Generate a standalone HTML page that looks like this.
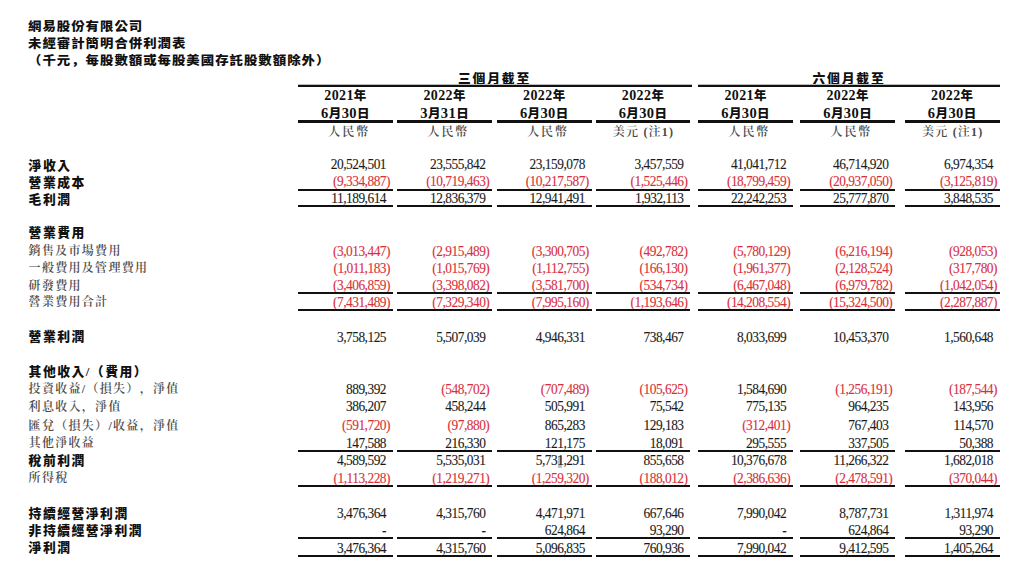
<!DOCTYPE html><html><head><meta charset="utf-8"><title>網易股份有限公司 未經審計簡明合併利潤表</title><style>
html,body{margin:0;padding:0;background:#fff;width:1024px;height:566px;overflow:hidden;position:relative}
div{text-spacing-trim:space-all}
.t{position:absolute;white-space:nowrap;line-height:1}
.n{font-family:"Liberation Serif",serif;font-size:13.40px;letter-spacing:-0.50px;color:#1a1a1a;text-align:right;transform:scaleY(1.100);transform-origin:100% 11.0px;-webkit-text-stroke:0.10px currentColor}
.n.r{color:#d8303a}
.h{visibility:hidden}
.cmb{font-family:"Liberation Sans","Noto Sans CJK SC",sans-serif}
.cmr{font-family:"Liberation Serif","Noto Serif CJK SC",serif}
.lb{font-family:"Liberation Serif","Noto Sans CJK TC",sans-serif;font-weight:900;font-size:12.80px;letter-spacing:1.50px;color:#111}
.lr{font-family:"Liberation Serif","Noto Serif CJK TC","Noto Serif CJK SC",serif;font-weight:600;font-size:12.00px;letter-spacing:1.30px;color:#4a4a4a}
.ti{font-family:"Liberation Serif","Noto Sans CJK TC",sans-serif;font-weight:900;font-size:12.20px;letter-spacing:0.90px;color:#111;transform:scaleX(1.100);transform-origin:0 0}
.pr{font-family:"Liberation Serif","Noto Sans CJK TC",sans-serif;font-weight:900;font-size:12.80px;letter-spacing:1.80px;color:#111;text-align:center}
.ln{position:absolute;background:#111}
.hd{font-family:"Liberation Serif","Noto Sans CJK TC",sans-serif;font-weight:900;font-size:12.50px;letter-spacing:0.40px;color:#111;text-align:center}
.cu{font-family:"Liberation Serif","Noto Serif CJK TC","Noto Serif CJK SC",serif;font-weight:600;font-size:12.00px;letter-spacing:1.90px;color:#4a4a4a;text-align:center}
</style></head><body>
<div class="t ti" style="left:28.2px;top:21.0px">網易股份有限公司</div>
<div class="t ti" style="left:28.2px;top:38.2px">未經審計簡明合併利潤表</div>
<div class="t ti" style="left:28.2px;top:54.8px">（千元<span class="cmb">，</span>每股數額或每股美國存託股數額除外）</div>
<div class="t pr" style="left:298px;width:393px;top:72.6px">三個月截至</div>
<div class="t pr" style="left:698px;width:302px;top:72.6px">六個月截至</div>
<div class="ln" style="left:298px;width:393.5px;top:85px;height:2px"></div>
<div class="ln" style="left:698.2px;width:301.8px;top:85px;height:2px"></div>
<div class="ln" style="left:298px;width:393.5px;top:84px;height:1px;background:#bbb"></div>
<div class="ln" style="left:698.2px;width:301.8px;top:84px;height:1px;background:#bbb"></div>
<div class="t hd" style="left:298.0px;width:95.0px;top:89.4px"><span style="font-size:14.0px">2021</span>年</div>
<div class="t hd" style="left:298.0px;width:95.0px;top:105.7px"><span style="font-size:14.5px">6</span>月<span style="font-size:14.5px">30</span>日</div>
<div class="t cu" style="left:301.7px;width:95.0px;top:125.9px">人民幣</div>
<div class="t hd" style="left:397.0px;width:95.3px;top:89.4px"><span style="font-size:14.0px">2022</span>年</div>
<div class="t hd" style="left:397.0px;width:95.3px;top:105.7px"><span style="font-size:14.5px">3</span>月<span style="font-size:14.5px">31</span>日</div>
<div class="t cu" style="left:400.7px;width:95.3px;top:125.9px">人民幣</div>
<div class="t hd" style="left:496.8px;width:95.0px;top:89.4px"><span style="font-size:14.0px">2022</span>年</div>
<div class="t hd" style="left:496.8px;width:95.0px;top:105.7px"><span style="font-size:14.5px">6</span>月<span style="font-size:14.5px">30</span>日</div>
<div class="t cu" style="left:500.5px;width:95.0px;top:125.9px">人民幣</div>
<div class="t hd" style="left:595.6px;width:94.9px;top:89.4px"><span style="font-size:14.0px">2022</span>年</div>
<div class="t hd" style="left:595.6px;width:94.9px;top:105.7px"><span style="font-size:14.5px">6</span>月<span style="font-size:14.5px">30</span>日</div>
<div class="t cu" style="left:596.1px;width:94.9px;top:125.9px;letter-spacing:1.20px">美元 (注1)</div>
<div class="t hd" style="left:698.2px;width:94.9px;top:89.4px"><span style="font-size:14.0px">2021</span>年</div>
<div class="t hd" style="left:698.2px;width:94.9px;top:105.7px"><span style="font-size:14.5px">6</span>月<span style="font-size:14.5px">30</span>日</div>
<div class="t cu" style="left:701.9px;width:94.9px;top:125.9px">人民幣</div>
<div class="t hd" style="left:800.1px;width:95.2px;top:89.4px"><span style="font-size:14.0px">2022</span>年</div>
<div class="t hd" style="left:800.1px;width:95.2px;top:105.7px"><span style="font-size:14.5px">6</span>月<span style="font-size:14.5px">30</span>日</div>
<div class="t cu" style="left:803.8px;width:95.2px;top:125.9px">人民幣</div>
<div class="t hd" style="left:904.5px;width:95.5px;top:89.4px"><span style="font-size:14.0px">2022</span>年</div>
<div class="t hd" style="left:904.5px;width:95.5px;top:105.7px"><span style="font-size:14.5px">6</span>月<span style="font-size:14.5px">30</span>日</div>
<div class="t cu" style="left:905.0px;width:95.5px;top:125.9px;letter-spacing:1.20px">美元 (注1)</div>
<div style="position:absolute;left:558.0px;top:456.0px;width:4.0px;height:12.0px;background:#a9c6cf"></div>
<div class="t lb" style="left:28.6px;top:160.40px">淨收入</div>
<div class="t n" style="right:634.00px;top:158.40px">20,524,501<span class="h">)</span></div>
<div class="t n" style="right:534.70px;top:158.40px">23,555,842<span class="h">)</span></div>
<div class="t n" style="right:435.20px;top:158.40px">23,159,078<span class="h">)</span></div>
<div class="t n" style="right:336.50px;top:158.40px">3,457,559<span class="h">)</span></div>
<div class="t n" style="right:233.90px;top:158.40px">41,041,712<span class="h">)</span></div>
<div class="t n" style="right:131.70px;top:158.40px">46,714,920<span class="h">)</span></div>
<div class="t n" style="right:27.00px;top:158.40px">6,974,354<span class="h">)</span></div>
<div class="t lb" style="left:28.6px;top:176.90px">營業成本</div>
<div class="t n r" style="right:634.00px;top:174.80px">(9,334,887)</div>
<div class="t n r" style="right:534.70px;top:174.80px">(10,719,463)</div>
<div class="t n r" style="right:435.20px;top:174.80px">(10,217,587)</div>
<div class="t n r" style="right:336.50px;top:174.80px">(1,525,446)</div>
<div class="t n r" style="right:233.90px;top:174.80px">(18,799,459)</div>
<div class="t n r" style="right:131.70px;top:174.80px">(20,937,050)</div>
<div class="t n r" style="right:27.00px;top:174.80px">(3,125,819)</div>
<div class="t lb" style="left:28.6px;top:193.90px">毛利潤</div>
<div class="t n" style="right:634.00px;top:191.60px">11,189,614<span class="h">)</span></div>
<div class="t n" style="right:534.70px;top:191.60px">12,836,379<span class="h">)</span></div>
<div class="t n" style="right:435.20px;top:191.60px">12,941,491<span class="h">)</span></div>
<div class="t n" style="right:336.50px;top:191.60px">1,932,113<span class="h">)</span></div>
<div class="t n" style="right:233.90px;top:191.60px">22,242,253<span class="h">)</span></div>
<div class="t n" style="right:131.70px;top:191.60px">25,777,870<span class="h">)</span></div>
<div class="t n" style="right:27.00px;top:191.60px">3,848,535<span class="h">)</span></div>
<div class="t lb" style="left:28.6px;top:227.30px">營業費用</div>
<div class="t lr" style="left:28.6px;top:244.50px">銷售及市場費用</div>
<div class="t n r" style="right:634.00px;top:244.60px">(3,013,447)</div>
<div class="t n r" style="right:534.70px;top:244.60px">(2,915,489)</div>
<div class="t n r" style="right:435.20px;top:244.60px">(3,300,705)</div>
<div class="t n r" style="right:336.50px;top:244.60px">(492,782)</div>
<div class="t n r" style="right:233.90px;top:244.60px">(5,780,129)</div>
<div class="t n r" style="right:131.70px;top:244.60px">(6,216,194)</div>
<div class="t n r" style="right:27.00px;top:244.60px">(928,053)</div>
<div class="t lr" style="left:28.6px;top:261.80px">一般費用及管理費用</div>
<div class="t n r" style="right:634.00px;top:261.60px">(1,011,183)</div>
<div class="t n r" style="right:534.70px;top:261.60px">(1,015,769)</div>
<div class="t n r" style="right:435.20px;top:261.60px">(1,112,755)</div>
<div class="t n r" style="right:336.50px;top:261.60px">(166,130)</div>
<div class="t n r" style="right:233.90px;top:261.60px">(1,961,377)</div>
<div class="t n r" style="right:131.70px;top:261.60px">(2,128,524)</div>
<div class="t n r" style="right:27.00px;top:261.60px">(317,780)</div>
<div class="t lr" style="left:28.6px;top:279.70px">研發費用</div>
<div class="t n r" style="right:634.00px;top:279.00px">(3,406,859)</div>
<div class="t n r" style="right:534.70px;top:279.00px">(3,398,082)</div>
<div class="t n r" style="right:435.20px;top:279.00px">(3,581,700)</div>
<div class="t n r" style="right:336.50px;top:279.00px">(534,734)</div>
<div class="t n r" style="right:233.90px;top:279.00px">(6,467,048)</div>
<div class="t n r" style="right:131.70px;top:279.00px">(6,979,782)</div>
<div class="t n r" style="right:27.00px;top:279.00px">(1,042,054)</div>
<div class="t lr" style="left:28.6px;top:296.10px">營業費用合計</div>
<div class="t n r" style="right:634.00px;top:296.30px">(7,431,489)</div>
<div class="t n r" style="right:534.70px;top:296.30px">(7,329,340)</div>
<div class="t n r" style="right:435.20px;top:296.30px">(7,995,160)</div>
<div class="t n r" style="right:336.50px;top:296.30px">(1,193,646)</div>
<div class="t n r" style="right:233.90px;top:296.30px">(14,208,554)</div>
<div class="t n r" style="right:131.70px;top:296.30px">(15,324,500)</div>
<div class="t n r" style="right:27.00px;top:296.30px">(2,287,887)</div>
<div class="t lb" style="left:28.6px;top:331.40px">營業利潤</div>
<div class="t n" style="right:634.00px;top:330.90px">3,758,125<span class="h">)</span></div>
<div class="t n" style="right:534.70px;top:330.90px">5,507,039<span class="h">)</span></div>
<div class="t n" style="right:435.20px;top:330.90px">4,946,331<span class="h">)</span></div>
<div class="t n" style="right:336.50px;top:330.90px">738,467<span class="h">)</span></div>
<div class="t n" style="right:233.90px;top:330.90px">8,033,699<span class="h">)</span></div>
<div class="t n" style="right:131.70px;top:330.90px">10,453,370<span class="h">)</span></div>
<div class="t n" style="right:27.00px;top:330.90px">1,560,648<span class="h">)</span></div>
<div class="t lb" style="left:28.6px;top:366.20px">其他收入/（費用）</div>
<div class="t lr" style="left:28.6px;top:383.40px">投資收益/（損失）<span class="cmr">，</span>淨值</div>
<div class="t n" style="right:634.00px;top:383.20px">889,392<span class="h">)</span></div>
<div class="t n r" style="right:534.70px;top:383.20px">(548,702)</div>
<div class="t n r" style="right:435.20px;top:383.20px">(707,489)</div>
<div class="t n r" style="right:336.50px;top:383.20px">(105,625)</div>
<div class="t n" style="right:233.90px;top:383.20px">1,584,690<span class="h">)</span></div>
<div class="t n r" style="right:131.70px;top:383.20px">(1,256,191)</div>
<div class="t n r" style="right:27.00px;top:383.20px">(187,544)</div>
<div class="t lr" style="left:28.6px;top:401.30px">利息收入<span class="cmr">，</span>淨值</div>
<div class="t n" style="right:634.00px;top:400.40px">386,207<span class="h">)</span></div>
<div class="t n" style="right:534.70px;top:400.40px">458,244<span class="h">)</span></div>
<div class="t n" style="right:435.20px;top:400.40px">505,991<span class="h">)</span></div>
<div class="t n" style="right:336.50px;top:400.40px">75,542<span class="h">)</span></div>
<div class="t n" style="right:233.90px;top:400.40px">775,135<span class="h">)</span></div>
<div class="t n" style="right:131.70px;top:400.40px">964,235<span class="h">)</span></div>
<div class="t n" style="right:27.00px;top:400.40px">143,956<span class="h">)</span></div>
<div class="t lr" style="left:28.6px;top:419.90px">匯兌（損失）/收益<span class="cmr">，</span>淨值</div>
<div class="t n r" style="right:634.00px;top:418.90px">(591,720)</div>
<div class="t n r" style="right:534.70px;top:418.90px">(97,880)</div>
<div class="t n" style="right:435.20px;top:418.90px">865,283<span class="h">)</span></div>
<div class="t n" style="right:336.50px;top:418.90px">129,183<span class="h">)</span></div>
<div class="t n r" style="right:233.90px;top:418.90px">(312,401)</div>
<div class="t n" style="right:131.70px;top:418.90px">767,403<span class="h">)</span></div>
<div class="t n" style="right:27.00px;top:418.90px">114,570<span class="h">)</span></div>
<div class="t lr" style="left:28.6px;top:437.30px">其他淨收益</div>
<div class="t n" style="right:634.00px;top:437.00px">147,588<span class="h">)</span></div>
<div class="t n" style="right:534.70px;top:437.00px">216,330<span class="h">)</span></div>
<div class="t n" style="right:435.20px;top:437.00px">121,175<span class="h">)</span></div>
<div class="t n" style="right:336.50px;top:437.00px">18,091<span class="h">)</span></div>
<div class="t n" style="right:233.90px;top:437.00px">295,555<span class="h">)</span></div>
<div class="t n" style="right:131.70px;top:437.00px">337,505<span class="h">)</span></div>
<div class="t n" style="right:27.00px;top:437.00px">50,388<span class="h">)</span></div>
<div class="t lb" style="left:28.6px;top:455.10px">稅前利潤</div>
<div class="t n" style="right:634.00px;top:454.30px">4,589,592<span class="h">)</span></div>
<div class="t n" style="right:534.70px;top:454.30px">5,535,031<span class="h">)</span></div>
<div class="t n" style="right:435.20px;top:454.30px">5,731,291<span class="h">)</span></div>
<div class="t n" style="right:336.50px;top:454.30px">855,658<span class="h">)</span></div>
<div class="t n" style="right:233.90px;top:454.30px">10,376,678<span class="h">)</span></div>
<div class="t n" style="right:131.70px;top:454.30px">11,266,322<span class="h">)</span></div>
<div class="t n" style="right:27.00px;top:454.30px">1,682,018<span class="h">)</span></div>
<div class="t lr" style="left:28.6px;top:472.30px">所得稅</div>
<div class="t n r" style="right:634.00px;top:471.60px">(1,113,228)</div>
<div class="t n r" style="right:534.70px;top:471.60px">(1,219,271)</div>
<div class="t n r" style="right:435.20px;top:471.60px">(1,259,320)</div>
<div class="t n r" style="right:336.50px;top:471.60px">(188,012)</div>
<div class="t n r" style="right:233.90px;top:471.60px">(2,386,636)</div>
<div class="t n r" style="right:131.70px;top:471.60px">(2,478,591)</div>
<div class="t n r" style="right:27.00px;top:471.60px">(370,044)</div>
<div class="t lb" style="left:28.6px;top:507.50px">持續經營淨利潤</div>
<div class="t n" style="right:634.00px;top:506.60px">3,476,364<span class="h">)</span></div>
<div class="t n" style="right:534.70px;top:506.60px">4,315,760<span class="h">)</span></div>
<div class="t n" style="right:435.20px;top:506.60px">4,471,971<span class="h">)</span></div>
<div class="t n" style="right:336.50px;top:506.60px">667,646<span class="h">)</span></div>
<div class="t n" style="right:233.90px;top:506.60px">7,990,042<span class="h">)</span></div>
<div class="t n" style="right:131.70px;top:506.60px">8,787,731<span class="h">)</span></div>
<div class="t n" style="right:27.00px;top:506.60px">1,311,974<span class="h">)</span></div>
<div class="t lb" style="left:28.6px;top:524.80px">非持續經營淨利潤</div>
<div class="t n" style="right:634.00px;top:524.10px">-<span class="h">)</span></div>
<div class="t n" style="right:534.70px;top:524.10px">-<span class="h">)</span></div>
<div class="t n" style="right:435.20px;top:524.10px">624,864<span class="h">)</span></div>
<div class="t n" style="right:336.50px;top:524.10px">93,290<span class="h">)</span></div>
<div class="t n" style="right:233.90px;top:524.10px">-<span class="h">)</span></div>
<div class="t n" style="right:131.70px;top:524.10px">624,864<span class="h">)</span></div>
<div class="t n" style="right:27.00px;top:524.10px">93,290<span class="h">)</span></div>
<div class="t lb" style="left:28.6px;top:542.10px">淨利潤</div>
<div class="t n" style="right:634.00px;top:541.50px">3,476,364<span class="h">)</span></div>
<div class="t n" style="right:534.70px;top:541.50px">4,315,760<span class="h">)</span></div>
<div class="t n" style="right:435.20px;top:541.50px">5,096,835<span class="h">)</span></div>
<div class="t n" style="right:336.50px;top:541.50px">760,936<span class="h">)</span></div>
<div class="t n" style="right:233.90px;top:541.50px">7,990,042<span class="h">)</span></div>
<div class="t n" style="right:131.70px;top:541.50px">9,412,595<span class="h">)</span></div>
<div class="t n" style="right:27.00px;top:541.50px">1,405,264<span class="h">)</span></div>
<div class="ln" style="left:298.0px;width:95.0px;top:120.0px;height:3.0px"></div>
<div class="ln" style="left:397.0px;width:95.3px;top:120.0px;height:3.0px"></div>
<div class="ln" style="left:496.8px;width:95.0px;top:120.0px;height:3.0px"></div>
<div class="ln" style="left:595.6px;width:94.9px;top:120.0px;height:3.0px"></div>
<div class="ln" style="left:698.2px;width:94.9px;top:120.0px;height:3.0px"></div>
<div class="ln" style="left:800.1px;width:95.2px;top:120.0px;height:3.0px"></div>
<div class="ln" style="left:904.5px;width:95.5px;top:120.0px;height:3.0px"></div>
<div class="ln" style="left:298.0px;width:95.0px;top:189.0px;height:2.0px"></div>
<div class="ln" style="left:397.0px;width:95.3px;top:189.0px;height:2.0px"></div>
<div class="ln" style="left:496.8px;width:95.0px;top:189.0px;height:2.0px"></div>
<div class="ln" style="left:595.6px;width:94.9px;top:189.0px;height:2.0px"></div>
<div class="ln" style="left:698.2px;width:94.9px;top:189.0px;height:2.0px"></div>
<div class="ln" style="left:800.1px;width:95.2px;top:189.0px;height:2.0px"></div>
<div class="ln" style="left:904.5px;width:95.5px;top:189.0px;height:2.0px"></div>
<div class="ln" style="left:298.0px;width:95.0px;top:205.0px;height:2.0px"></div>
<div class="ln" style="left:397.0px;width:95.3px;top:205.0px;height:2.0px"></div>
<div class="ln" style="left:496.8px;width:95.0px;top:205.0px;height:2.0px"></div>
<div class="ln" style="left:595.6px;width:94.9px;top:205.0px;height:2.0px"></div>
<div class="ln" style="left:698.2px;width:94.9px;top:205.0px;height:2.0px"></div>
<div class="ln" style="left:800.1px;width:95.2px;top:205.0px;height:2.0px"></div>
<div class="ln" style="left:904.5px;width:95.5px;top:205.0px;height:2.0px"></div>
<div class="ln" style="left:298.0px;width:95.0px;top:292.0px;height:2.0px"></div>
<div class="ln" style="left:397.0px;width:95.3px;top:292.0px;height:2.0px"></div>
<div class="ln" style="left:496.8px;width:95.0px;top:292.0px;height:2.0px"></div>
<div class="ln" style="left:595.6px;width:94.9px;top:292.0px;height:2.0px"></div>
<div class="ln" style="left:698.2px;width:94.9px;top:292.0px;height:2.0px"></div>
<div class="ln" style="left:800.1px;width:95.2px;top:292.0px;height:2.0px"></div>
<div class="ln" style="left:904.5px;width:95.5px;top:292.0px;height:2.0px"></div>
<div class="ln" style="left:298.0px;width:95.0px;top:309.0px;height:2.0px"></div>
<div class="ln" style="left:397.0px;width:95.3px;top:309.0px;height:2.0px"></div>
<div class="ln" style="left:496.8px;width:95.0px;top:309.0px;height:2.0px"></div>
<div class="ln" style="left:595.6px;width:94.9px;top:309.0px;height:2.0px"></div>
<div class="ln" style="left:698.2px;width:94.9px;top:309.0px;height:2.0px"></div>
<div class="ln" style="left:800.1px;width:95.2px;top:309.0px;height:2.0px"></div>
<div class="ln" style="left:904.5px;width:95.5px;top:309.0px;height:2.0px"></div>
<div class="ln" style="left:298.0px;width:95.0px;top:450.0px;height:2.0px"></div>
<div class="ln" style="left:397.0px;width:95.3px;top:450.0px;height:2.0px"></div>
<div class="ln" style="left:496.8px;width:95.0px;top:450.0px;height:2.0px"></div>
<div class="ln" style="left:595.6px;width:94.9px;top:450.0px;height:2.0px"></div>
<div class="ln" style="left:698.2px;width:94.9px;top:450.0px;height:2.0px"></div>
<div class="ln" style="left:800.1px;width:95.2px;top:450.0px;height:2.0px"></div>
<div class="ln" style="left:904.5px;width:95.5px;top:450.0px;height:2.0px"></div>
<div class="ln" style="left:298.0px;width:95.0px;top:485.0px;height:2.0px"></div>
<div class="ln" style="left:397.0px;width:95.3px;top:485.0px;height:2.0px"></div>
<div class="ln" style="left:496.8px;width:95.0px;top:485.0px;height:2.0px"></div>
<div class="ln" style="left:595.6px;width:94.9px;top:485.0px;height:2.0px"></div>
<div class="ln" style="left:698.2px;width:94.9px;top:485.0px;height:2.0px"></div>
<div class="ln" style="left:800.1px;width:95.2px;top:485.0px;height:2.0px"></div>
<div class="ln" style="left:904.5px;width:95.5px;top:485.0px;height:2.0px"></div>
<div class="ln" style="left:298.0px;width:95.0px;top:537.0px;height:2.0px"></div>
<div class="ln" style="left:397.0px;width:95.3px;top:537.0px;height:2.0px"></div>
<div class="ln" style="left:496.8px;width:95.0px;top:537.0px;height:2.0px"></div>
<div class="ln" style="left:595.6px;width:94.9px;top:537.0px;height:2.0px"></div>
<div class="ln" style="left:698.2px;width:94.9px;top:537.0px;height:2.0px"></div>
<div class="ln" style="left:800.1px;width:95.2px;top:537.0px;height:2.0px"></div>
<div class="ln" style="left:904.5px;width:95.5px;top:537.0px;height:2.0px"></div>
<div class="ln" style="left:298.0px;width:95.0px;top:555.0px;height:2.0px"></div>
<div class="ln" style="left:397.0px;width:95.3px;top:555.0px;height:2.0px"></div>
<div class="ln" style="left:496.8px;width:95.0px;top:555.0px;height:2.0px"></div>
<div class="ln" style="left:595.6px;width:94.9px;top:555.0px;height:2.0px"></div>
<div class="ln" style="left:698.2px;width:94.9px;top:555.0px;height:2.0px"></div>
<div class="ln" style="left:800.1px;width:95.2px;top:555.0px;height:2.0px"></div>
<div class="ln" style="left:904.5px;width:95.5px;top:555.0px;height:2.0px"></div>
</body></html>
